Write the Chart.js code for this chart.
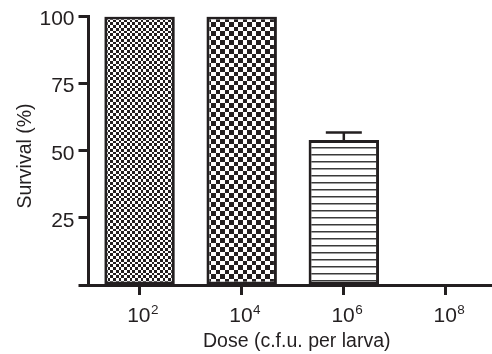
<!DOCTYPE html>
<html>
<head>
<meta charset="utf-8">
<script src="https://cdn.jsdelivr.net/npm/chart.js@4"></script>
<style>
html, body { margin: 0; padding: 0; background: #fff; overflow: hidden; }
#wrap { width: 497px; height: 354px; }
</style>
</head>
<body>
<div id="wrap"><canvas id="survival-chart" width="497" height="354"></canvas></div>
<script>
// dose groups (10^n c.f.u. per larva)
const doseBase = '10';
const doseExponents = ['2', '4', '6', '8'];
const doseLabels = doseExponents.map(e => doseBase + '^' + e);
// survival % and error (upper whisker)
const survival = [100, 100, 54, 0];
const survivalErr = [0, 0, 2.8, 0];
const yTickValues = [0, 25, 50, 75, 100];

const ink = '#231f20';
const family = "'Liberation Sans', Arial, Helvetica, sans-serif";

// checkerboard fill, cells = list of cell sizes along one period
function checker(cells) {
    const size = cells.reduce((a, b) => a + b, 0);
    const c = document.createElement('canvas');
    c.width = size; c.height = size;
    const g = c.getContext('2d');
    g.fillStyle = '#fff';
    g.fillRect(0, 0, size, size);
    g.fillStyle = ink;
    let y = 0;
    cells.forEach((h, j) => {
        let x = 0;
        cells.forEach((w, i) => {
            if ((i + j) % 2 === 0) g.fillRect(x, y, w, h);
            x += w;
        });
        y += h;
    });
    return g.createPattern(c, 'repeat');
}

function stripes(period, line) {
    const c = document.createElement('canvas');
    c.width = 8; c.height = period;
    const g = c.getContext('2d');
    g.fillStyle = '#fff';
    g.fillRect(0, 0, 8, period);
    g.fillStyle = '#3a3a3a';
    g.fillRect(0, 0, 8, line);
    return g.createPattern(c, 'repeat');
}

const fills = [checker([3, 3, 3, 2]), checker([4, 5]), stripes(7, 1.5), '#fff'];

const annotate = {
    id: 'annotate',
    afterDatasetsDraw(chart) {
        const ctx = chart.ctx;
        const yScale = chart.scales.y;
        const meta = chart.getDatasetMeta(0);
        ctx.save();
        ctx.strokeStyle = ink;
        ctx.lineWidth = 2.5;
        survivalErr.forEach((err, i) => {
            if (!err) return;
            const bar = meta.data[i];
            const yTop = yScale.getPixelForValue(survival[i] + err);
            ctx.beginPath();
            ctx.moveTo(bar.x, bar.y);
            ctx.lineTo(bar.x, yTop);
            ctx.moveTo(bar.x - 18, yTop);
            ctx.lineTo(bar.x + 18, yTop);
            ctx.stroke();
        });
        ctx.restore();
    },
    afterDraw(chart) {
        const ctx = chart.ctx;
        const area = chart.chartArea;
        const xScale = chart.scales.x;
        ctx.save();
        ctx.fillStyle = ink;
        ctx.textBaseline = 'alphabetic';
        ctx.textAlign = 'left';
        // x tick labels with superscript exponent
        doseExponents.forEach((e, i) => {
            const x = xScale.getPixelForTick(i) + 3;
            ctx.font = '21px ' + family;
            const w1 = ctx.measureText(doseBase).width;
            ctx.font = '13.5px ' + family;
            const w2 = ctx.measureText(e).width;
            const x0 = x - (w1 + w2) / 2;
            ctx.font = '21px ' + family;
            ctx.fillText(doseBase, x0, area.bottom + 37);
            ctx.font = '13.5px ' + family;
            ctx.fillText(e, x0 + w1 + 0.5, area.bottom + 29);
        });
        // axis titles
        ctx.font = '19.5px ' + family;
        ctx.textAlign = 'center';
        ctx.fillText('Dose (c.f.u. per larva)', (area.left + area.right) / 2 + 4, area.bottom + 62);
        ctx.translate(31, 156);
        ctx.rotate(-Math.PI / 2);
        ctx.fillText('Survival (%)', 0, 0);
        ctx.restore();
    }
};

new Chart(document.getElementById('survival-chart'), {
    type: 'bar',
    data: {
        labels: doseLabels,
        datasets: [{
            label: 'Survival',
            data: survival,
            backgroundColor: fills,
            borderColor: ink,
            borderWidth: 3,
            borderSkipped: false,
            barPercentage: 0.69,
            categoryPercentage: 1
        }]
    },
    options: {
        responsive: false,
        animation: false,
        devicePixelRatio: 1,
        layout: { padding: { top: 14, left: 0, right: 0, bottom: 0 } },
        plugins: {
            legend: { display: false },
            tooltip: { enabled: false }
        },
        scales: {
            x: {
                grid: { offset: false, drawOnChartArea: false, tickLength: 10, tickWidth: 3, color: ink },
                border: { color: ink, width: 3 },
                ticks: { callback: () => '' },
                afterFit: s => { s.height = 69; }
            },
            y: {
                min: 0,
                max: 100,
                afterBuildTicks: s => { s.ticks = yTickValues.map(v => ({ value: v })); },
                grid: { drawOnChartArea: false, tickLength: 10, tickWidth: 3, color: ink },
                border: { color: ink, width: 3 },
                ticks: {
                    callback: v => v === 0 ? '' : v,
                    font: { family: family, size: 21 },
                    color: ink,
                    padding: 4,
                    labelOffset: 3
                },
                afterFit: s => { s.width = 88.5; }
            }
        }
    },
    plugins: [annotate]
});
</script>
</body>
</html>
